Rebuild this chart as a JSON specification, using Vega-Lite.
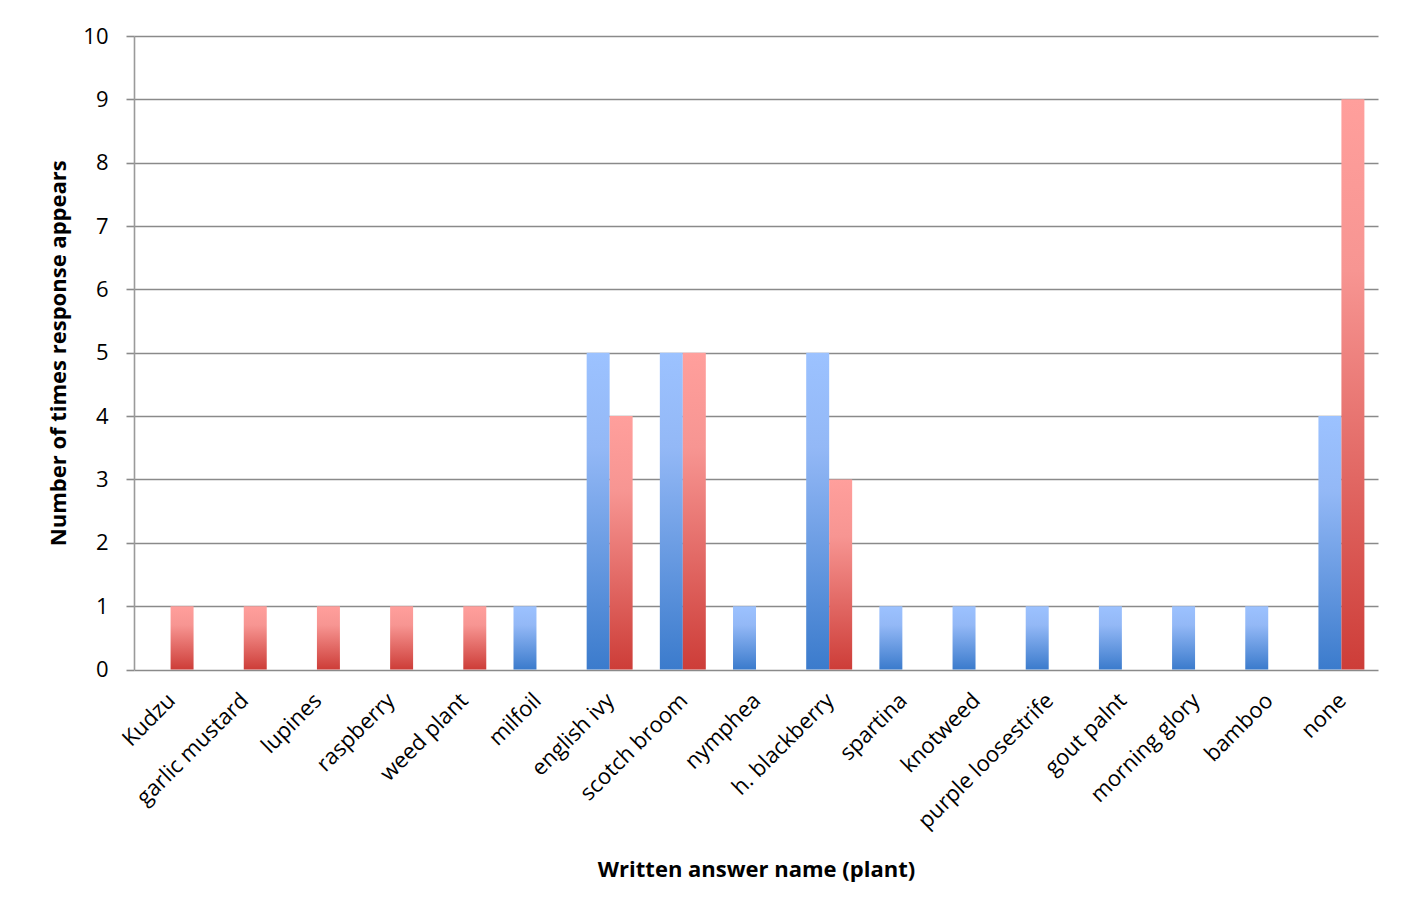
{
  "$schema": "https://vega.github.io/schema/vega-lite/v6.json",
  "width": 1244,
  "height": 633.5,
  "autosize": "none",
  "padding": {"left": 134, "top": 36, "right": 34, "bottom": 245.5},
  "background": "#ffffff",
  "config": {
    "font": "Open Sans",
    "view": {"stroke": null},
    "axis": {
      "labelFont": "Open Sans",
      "titleFont": "Open Sans",
      "labelColor": "#000000",
      "titleColor": "#000000",
      "labelFontSize": 22,
      "titleFontSize": 22,
      "titleFontWeight": "bold"
    }
  },
  "data": {
    "values": [
      {"plant": "Kudzu", "series": "Series 1", "count": 0},
      {"plant": "Kudzu", "series": "Series 2", "count": 1},
      {"plant": "garlic mustard", "series": "Series 1", "count": 0},
      {"plant": "garlic mustard", "series": "Series 2", "count": 1},
      {"plant": "lupines", "series": "Series 1", "count": 0},
      {"plant": "lupines", "series": "Series 2", "count": 1},
      {"plant": "raspberry", "series": "Series 1", "count": 0},
      {"plant": "raspberry", "series": "Series 2", "count": 1},
      {"plant": "weed plant", "series": "Series 1", "count": 0},
      {"plant": "weed plant", "series": "Series 2", "count": 1},
      {"plant": "milfoil", "series": "Series 1", "count": 1},
      {"plant": "milfoil", "series": "Series 2", "count": 0},
      {"plant": "english ivy", "series": "Series 1", "count": 5},
      {"plant": "english ivy", "series": "Series 2", "count": 4},
      {"plant": "scotch broom", "series": "Series 1", "count": 5},
      {"plant": "scotch broom", "series": "Series 2", "count": 5},
      {"plant": "nymphea", "series": "Series 1", "count": 1},
      {"plant": "nymphea", "series": "Series 2", "count": 0},
      {"plant": "h. blackberry", "series": "Series 1", "count": 5},
      {"plant": "h. blackberry", "series": "Series 2", "count": 3},
      {"plant": "spartina", "series": "Series 1", "count": 1},
      {"plant": "spartina", "series": "Series 2", "count": 0},
      {"plant": "knotweed", "series": "Series 1", "count": 1},
      {"plant": "knotweed", "series": "Series 2", "count": 0},
      {"plant": "purple loosestrife", "series": "Series 1", "count": 1},
      {"plant": "purple loosestrife", "series": "Series 2", "count": 0},
      {"plant": "gout palnt", "series": "Series 1", "count": 1},
      {"plant": "gout palnt", "series": "Series 2", "count": 0},
      {"plant": "morning glory", "series": "Series 1", "count": 1},
      {"plant": "morning glory", "series": "Series 2", "count": 0},
      {"plant": "bamboo", "series": "Series 1", "count": 1},
      {"plant": "bamboo", "series": "Series 2", "count": 0},
      {"plant": "none", "series": "Series 1", "count": 4},
      {"plant": "none", "series": "Series 2", "count": 9}
    ]
  },
  "encoding": {
    "x": {
      "field": "plant",
      "type": "nominal",
      "sort": null,
      "scale": {
        "domain": ["Kudzu", "garlic mustard", "lupines", "raspberry", "weed plant", "milfoil", "english ivy", "scotch broom", "nymphea", "h. blackberry", "spartina", "knotweed", "purple loosestrife", "gout palnt", "morning glory", "bamboo", "none"],
        "paddingInner": 0.372,
        "paddingOuter": 0.186
      },
      "axis": {
        "title": "Written answer name (plant)",
        "labelAngle": -45,
        "labelPadding": 20,
        "labelOffset": -6,
        "labelLimit": 0,
        "ticks": false,
        "domain": false,
        "titlePadding": 28
      }
    },
    "xOffset": {
      "field": "series",
      "type": "nominal",
      "scale": {"domain": ["Series 1", "Series 2"], "paddingInner": 0, "paddingOuter": 0}
    },
    "y": {
      "field": "count",
      "type": "quantitative",
      "scale": {"domain": [0, 10], "nice": false},
      "axis": {
        "title": "Number of times response appears",
        "values": [0, 1, 2, 3, 4, 5, 6, 7, 8, 9, 10],
        "grid": true,
        "gridColor": "#8a8a8a",
        "gridWidth": 1.6,
        "gridOpacity": 1,
        "tickColor": "#8a8a8a",
        "tickWidth": 1.6,
        "tickSize": 8,
        "domainColor": "#9a9a9a",
        "domainWidth": 1.6,
        "labelPadding": 18,
        "titlePadding": 12
      }
    }
  },
  "layer": [
    {
      "transform": [{"filter": "datum.series === 'Series 1' && datum.count > 0"}],
      "mark": {
        "type": "bar",
        "fill": {
          "gradient": "linear",
          "x1": 0, "y1": 0, "x2": 0, "y2": 1,
          "stops": [
            {"offset": 0, "color": "#9cc2ff"},
            {"offset": 0.3, "color": "#93b8f6"},
            {"offset": 1, "color": "#3b7bcc"}
          ]
        }
      }
    },
    {
      "transform": [{"filter": "datum.series === 'Series 2' && datum.count > 0"}],
      "mark": {
        "type": "bar",
        "fill": {
          "gradient": "linear",
          "x1": 0, "y1": 0, "x2": 0, "y2": 1,
          "stops": [
            {"offset": 0, "color": "#ff9f9c"},
            {"offset": 0.3, "color": "#f79592"},
            {"offset": 1, "color": "#cd3d38"}
          ]
        }
      }
    }
  ]
}
